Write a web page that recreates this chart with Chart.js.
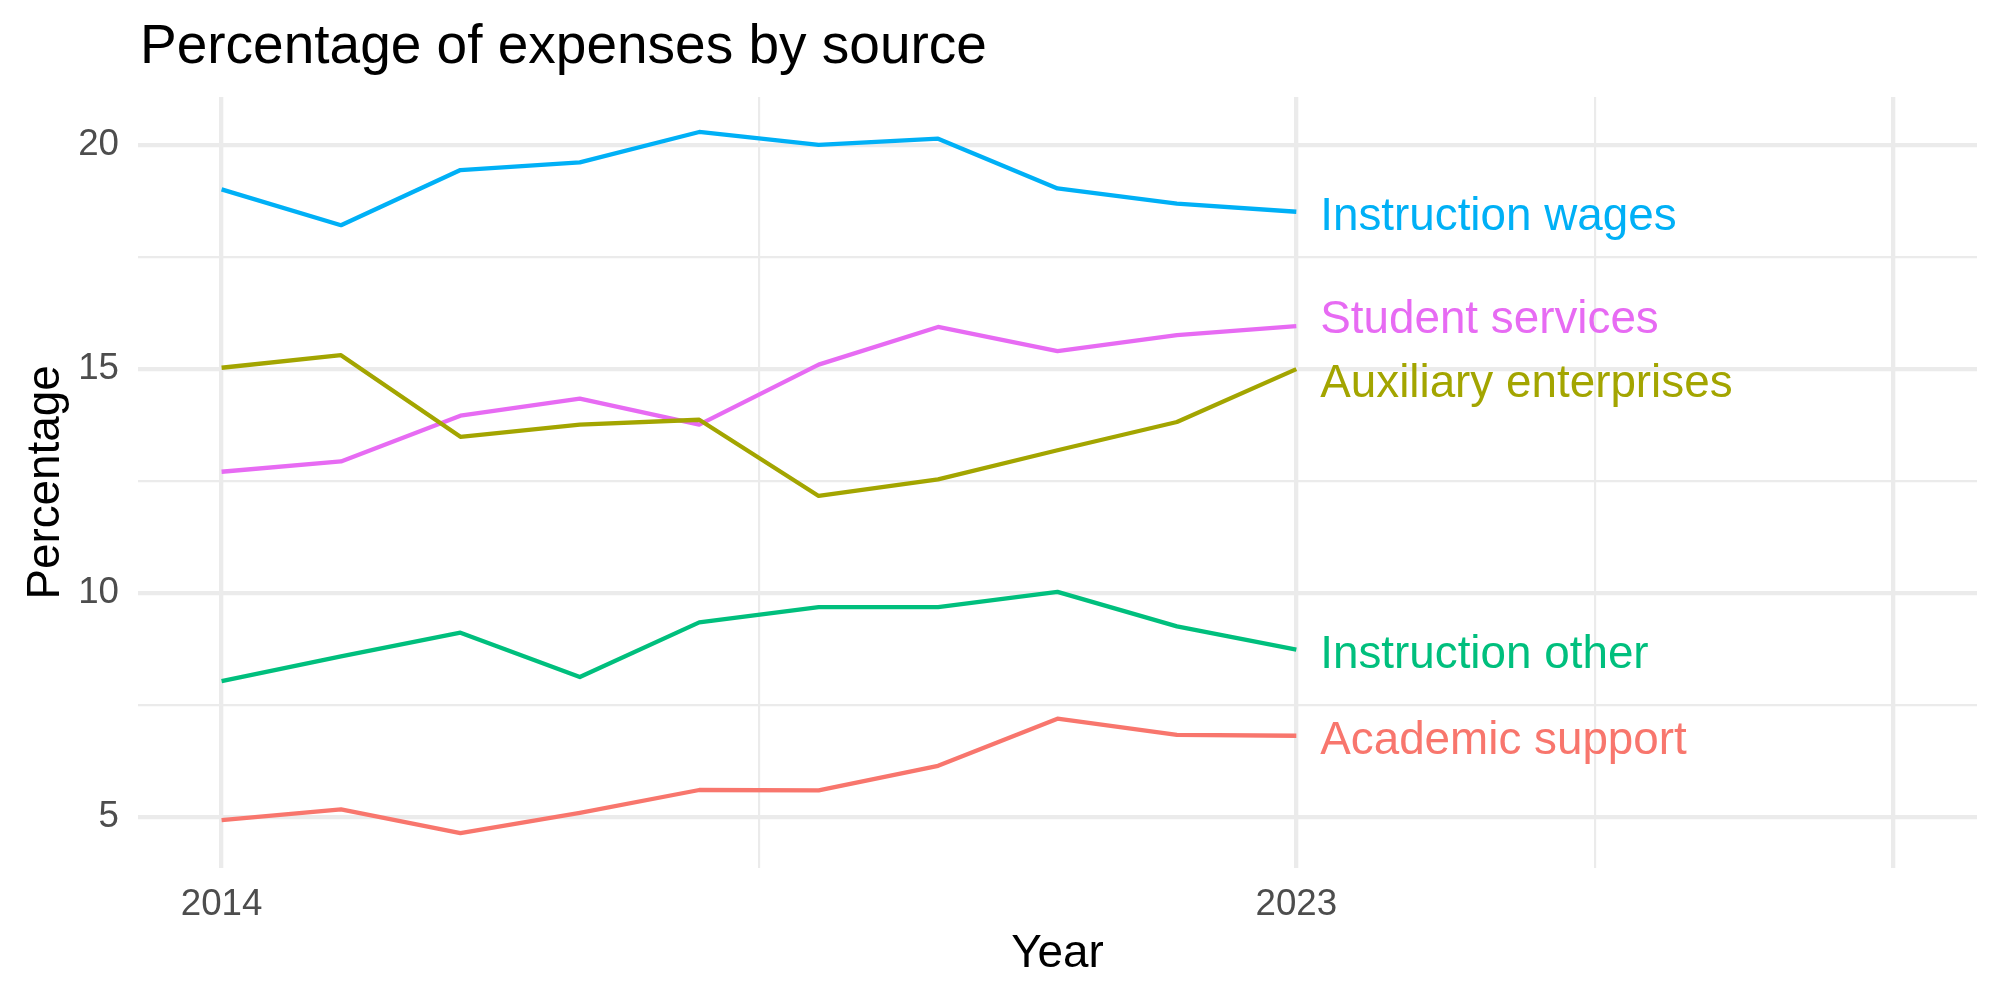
<!DOCTYPE html>
<html><head><meta charset="utf-8">
<script src="https://cdn.jsdelivr.net/npm/chart.js@4.4.0/dist/chart.umd.min.js"></script>
<style>html,body{margin:0;padding:0;background:#fff;}#wrap{width:2000px;height:1000px;}</style>
</head><body><div id="wrap"><canvas id="c" width="2000" height="1000"></canvas></div>
<script>
// ---- data ----
const years = [2014, 2015, 2016, 2017, 2018, 2019, 2020, 2021, 2022, 2023];
const academicSupport      = [4.94, 5.18, 4.65, 5.10, 5.61, 5.60, 6.15, 7.20, 6.84, 6.82];
const auxiliaryEnterprises = [15.03, 15.31, 13.49, 13.76, 13.87, 12.17, 12.54, 13.19, 13.82, 15.00];
const instructionOther     = [8.04, 8.59, 9.12, 8.13, 9.35, 9.69, 9.69, 10.03, 9.26, 8.74];
const instructionWages     = [19.01, 18.21, 19.44, 19.61, 20.29, 20.00, 20.14, 19.03, 18.69, 18.51];
const studentServices      = [12.71, 12.94, 13.96, 14.34, 13.76, 15.10, 15.94, 15.40, 15.76, 15.96];

const seriesNames  = ["Academic support", "Auxiliary enterprises", "Instruction other", "Instruction wages", "Student services"];
const seriesValues = [academicSupport, auxiliaryEnterprises, instructionOther, instructionWages, studentServices];
const seriesColors = ["#F8766D", "#A3A500", "#00BF7D", "#00B0F6", "#E76BF3"];

// end labels (text placed next to the last year, repelled slightly)
const labelX = 2023.2;
const labelY = [6.78, 14.74, 8.69, 18.47, 16.17];

// axes
const xMajorBreaks = [2014, 2023, 2028];
const xMinorBreaks = [2018.5, 2025.5];
const xTickLabels  = {2014: "2014", 2023: "2023"};
const yMajorBreaks = [5, 10, 15, 20];
const yMinorBreaks = [7.5, 12.5, 17.5];
const yTickLabels  = {5: "5", 10: "10", 15: "15", 20: "20"};
const xRange = [2013.3, 2028.7];
const yRange = [3.87, 21.07];

const titleText  = "Percentage of expenses by source";
const xTitleText = "Year";
const yTitleText = "Percentage";

// ---- chart ----
const FONT = "'Liberation Sans', Arial, Helvetica, sans-serif";
const GRID = "#EBEBEB";
const MAJOR_W = 4.3, MINOR_W = 2.15;

const datasets = seriesNames.map((name, i) => ({
  label: name,
  data: years.map((y, j) => ({x: y, y: seriesValues[i][j]})),
  borderColor: seriesColors[i],
  backgroundColor: seriesColors[i],
  borderWidth: 4.3,
  pointRadius: 0,
  tension: 0,
  borderCapStyle: 'butt',
  borderJoinStyle: 'round',
  fill: false
}));

const decorations = {
  id: 'decorations',
  afterDraw(chart) {
    const ctx = chart.ctx;
    const a = chart.chartArea;
    const xs = chart.scales.x, ys = chart.scales.y;
    ctx.save();
    // title
    ctx.fillStyle = '#000';
    ctx.font = `55px ${FONT}`;
    ctx.textAlign = 'left';
    ctx.textBaseline = 'alphabetic';
    ctx.fillText(titleText, a.left + 2, 63);
    // x title
    ctx.font = `45.8px ${FONT}`;
    ctx.textAlign = 'center';
    ctx.fillText(xTitleText, (a.left + a.right) / 2, 967);
    // y title
    ctx.save();
    ctx.translate(59, (a.top + a.bottom) / 2);
    ctx.rotate(-Math.PI / 2);
    ctx.fillText(yTitleText, 0, 0);
    ctx.restore();
    // series labels
    ctx.font = `45.8px ${FONT}`;
    ctx.textAlign = 'left';
    seriesNames.forEach((name, i) => {
      ctx.fillStyle = seriesColors[i];
      ctx.fillText(name, xs.getPixelForValue(labelX), ys.getPixelForValue(labelY[i]) + 16.4);
    });
    ctx.restore();
  }
};

new Chart(document.getElementById('c'), {
  type: 'line',
  data: {datasets},
  options: {
    responsive: false,
    animation: false,
    devicePixelRatio: 1,
    layout: {padding: {top: 97, right: 23, bottom: 0, left: 0}},
    plugins: {legend: {display: false}, tooltip: {enabled: false}, title: {display: false}},
    scales: {
      x: {
        type: 'linear',
        min: xRange[0], max: xRange[1],
        afterBuildTicks: s => { s.ticks = [...xMajorBreaks, ...xMinorBreaks].sort((p, q) => p - q).map(v => ({value: v})); },
        afterFit: s => { s.height = 132; },
        ticks: {
          autoSkip: false, maxRotation: 0, minRotation: 0,
          callback: v => (xTickLabels[v] !== undefined ? xTickLabels[v] : ''),
          font: {family: FONT, size: 36.7}, color: '#4D4D4D', padding: 15
        },
        grid: {
          color: GRID, drawTicks: false,
          lineWidth: c => (c.tick && xMinorBreaks.includes(c.tick.value) ? MINOR_W : MAJOR_W)
        },
        border: {display: false}
      },
      y: {
        type: 'linear',
        min: yRange[0], max: yRange[1],
        afterBuildTicks: s => { s.ticks = [...yMajorBreaks, ...yMinorBreaks].sort((p, q) => p - q).map(v => ({value: v})); },
        afterFit: s => { s.width = 138; },
        ticks: {
          autoSkip: false,
          callback: v => (yTickLabels[v] !== undefined ? yTickLabels[v] : ''),
          font: {family: FONT, size: 36.7}, color: '#4D4D4D', padding: 19
        },
        grid: {
          color: GRID, drawTicks: false,
          lineWidth: c => (c.tick && yMinorBreaks.includes(c.tick.value) ? MINOR_W : MAJOR_W)
        },
        border: {display: false}
      }
    }
  },
  plugins: [decorations]
});
</script>
</body></html>
